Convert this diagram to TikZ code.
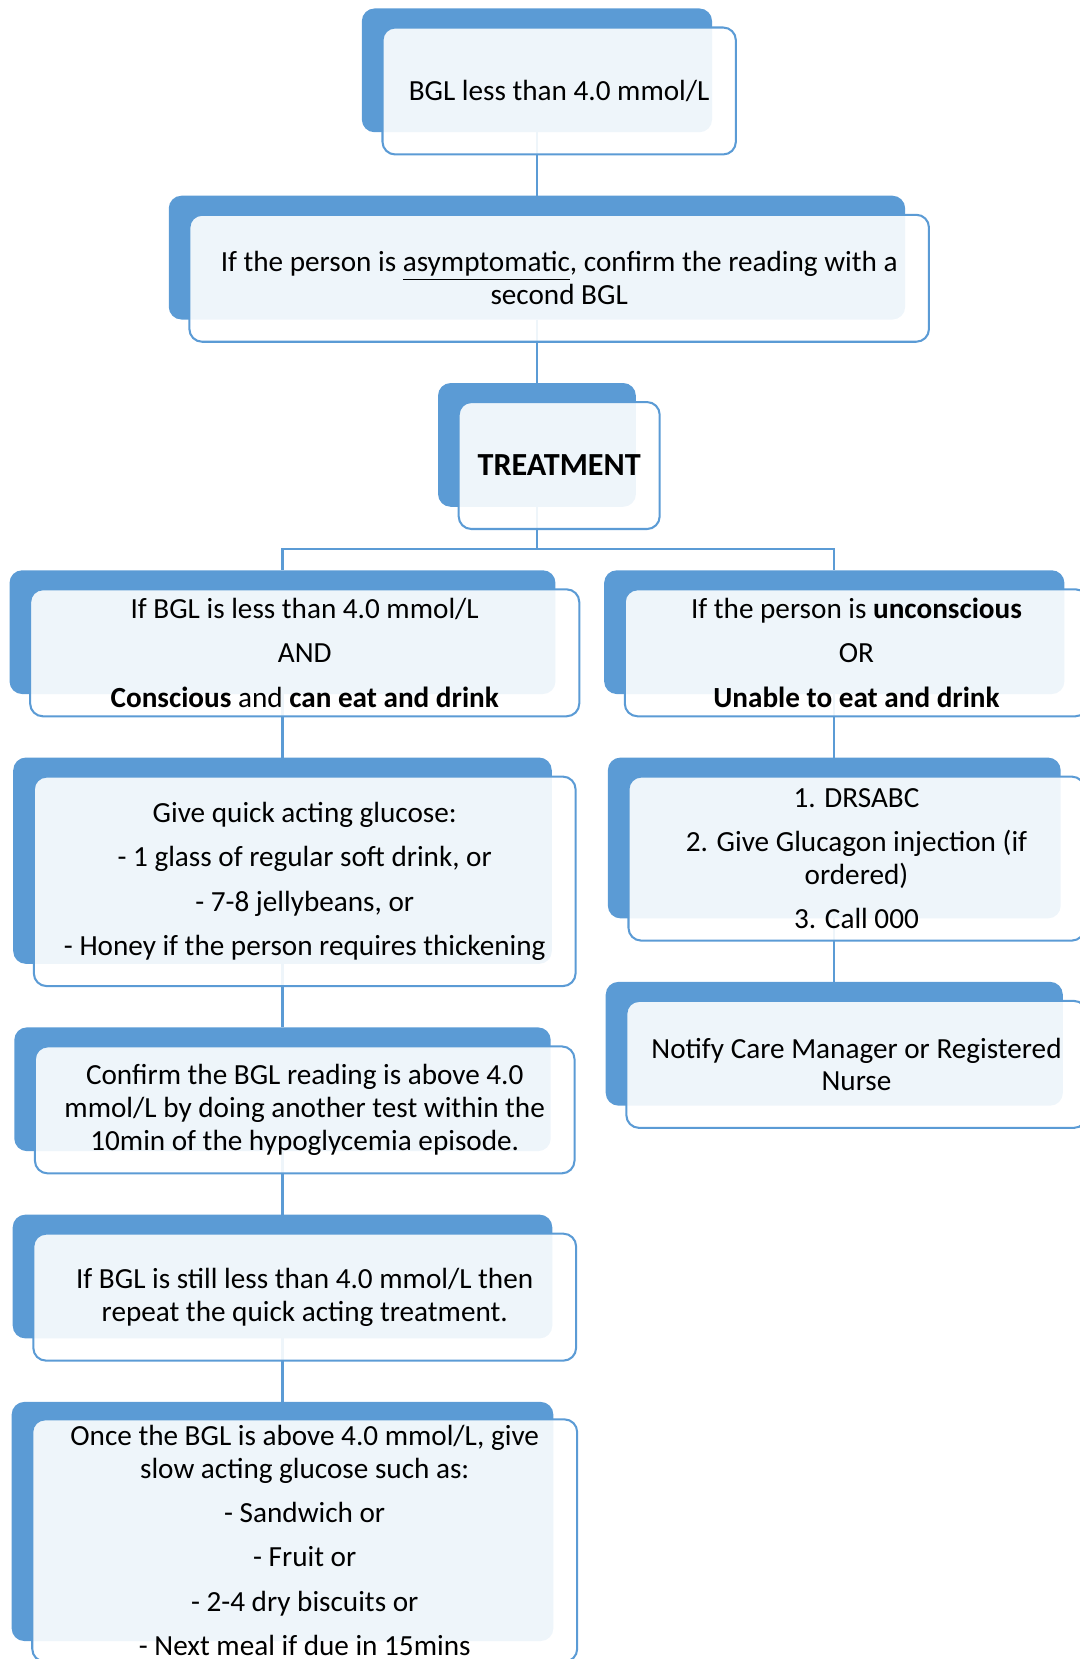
\documentclass[tikz,border=0pt]{standalone}
\usepackage{fontspec}
\setmainfont{Carlito}
\usetikzlibrary{positioning, backgrounds}
\definecolor{accent}{RGB}{91,155,213}

\begin{document}
\begin{tikzpicture}[
    node distance=1.2cm,
    back/.style={rectangle, rounded corners=0.24cm, fill=accent, minimum height=2.34cm, inner sep=0pt, outer sep=0pt},
    front/.style={rectangle, rounded corners=0.24cm, draw=accent, line width=1.1pt, fill=white, fill opacity=0.9, text opacity=1, align=center, inner sep=0pt, minimum height=2.4cm, font=\fontsize{15.7}{17.6}\selectfont},
    link/.style={accent, line width=1.1pt},
]
\useasboundingbox (0,0) rectangle (20.4,-31.36);

% Start
\node[back, minimum width=6.62cm] (bgl) at (10.15,-1.33) {};
\node[front, minimum width=6.68cm] (bgl_f) at ([shift={(0.42,-0.39)}]bgl.center) {BGL less than 4.0 mmol/L};

% Confirm reading
\node[back, minimum width=13.92cm, below=of bgl] (asym) {};
\node[front, minimum width=13.98cm] (asym_f) at ([shift={(0.42,-0.39)}]asym.center) {If the person is \underline{asymptomatic}, confirm the reading with a\\second BGL};

% Treatment
\node[back, minimum width=3.74cm, below=of asym] (treat) {};
\node[front, minimum width=3.8cm, font=\fontsize{17.3}{20}\selectfont\bfseries] (treat_f) at ([shift={(0.42,-0.39)}]treat.center) {TREATMENT};

% Left branch: conscious
\node[back, minimum width=10.32cm, below=of treat, xshift=-4.81cm] (consc) {};
\node[front, minimum width=10.38cm] (consc_f) at ([shift={(0.42,-0.39)}]consc.center) {If BGL is less than 4.0 mmol/L\\[6.2pt]AND\\[6.2pt]\textbf{Conscious} and \textbf{can eat and drink}};

\node[back, minimum width=10.18cm, minimum height=3.9cm, below=of consc] (quick) {};
\node[front, minimum width=10.24cm, minimum height=3.96cm] (quick_f) at ([shift={(0.42,-0.39)}]quick.center) {Give quick acting glucose:\\[6.2pt]- 1 glass of regular soft drink, or\\[6.2pt]- 7-8 jellybeans, or\\[6.2pt]- Honey if the person requires thickening};

\node[back, minimum width=10.14cm, below=of quick] (recheck) {};
\node[front, minimum width=10.2cm] (recheck_f) at ([shift={(0.42,-0.39)}]recheck.center) {Confirm the BGL reading is above 4.0\\mmol/L by doing another test within the\\10min of the hypoglycemia episode.};

\node[back, minimum width=10.2cm, below=of recheck] (repeat) {};
\node[front, minimum width=10.26cm] (repeat_f) at ([shift={(0.42,-0.39)}]repeat.center) {If BGL is still less than 4.0 mmol/L then\\repeat the quick acting treatment.};

\node[back, minimum width=10.24cm, minimum height=4.52cm, below=of repeat] (slow) {};
\node[front, minimum width=10.3cm, minimum height=4.58cm] (slow_f) at ([shift={(0.42,-0.36)}]slow.center) {Once the BGL is above 4.0 mmol/L, give\\slow acting glucose such as:\\[6.2pt]- Sandwich or\\[6.2pt]- Fruit or\\[6.2pt]- 2-4 dry biscuits or\\[6.2pt]- Next meal if due in 15mins};

% Right branch: unconscious
\node[back, minimum width=8.7cm, below=of treat, xshift=5.62cm] (uncon) {};
\node[front, minimum width=8.76cm] (uncon_f) at ([shift={(0.42,-0.39)}]uncon.center) {If the person is \textbf{unconscious}\\[6.2pt]OR\\[6.2pt]\textbf{Unable to eat and drink}};

\node[back, minimum width=8.56cm, minimum height=3.04cm, below=of uncon] (drs) {};
\node[front, minimum width=8.62cm, minimum height=3.1cm] (drs_f) at ([shift={(0.42,-0.39)}]drs.center) {1. DRSABC\\[6.2pt]2. Give Glucagon injection (if\\ordered)\\[6.2pt]3. Call 000};

\node[back, minimum width=8.64cm, below=of drs] (notify) {};
\node[front, minimum width=8.7cm] (notify_f) at ([shift={(0.42,-0.39)}]notify.center) {Notify Care Manager or Registered\\Nurse};

% Connectors
\begin{scope}[on background layer]
\draw[link] (bgl.south) -- (asym.north);
\draw[link] (asym.south) -- (treat.north);
\draw[link] (treat.south) -- ++(0,-0.8) -| (consc.north);
\draw[link] (treat.south) -- ++(0,-0.8) -| (uncon.north);
\draw[link] (consc.south) -- (quick.north);
\draw[link] (quick.south) -- (recheck.north);
\draw[link] (recheck.south) -- (repeat.north);
\draw[link] (repeat.south) -- (slow.north);
\draw[link] (uncon.south) -- (drs.north);
\draw[link] (drs.south) -- (notify.north);
\end{scope}

\end{tikzpicture}
\end{document}
